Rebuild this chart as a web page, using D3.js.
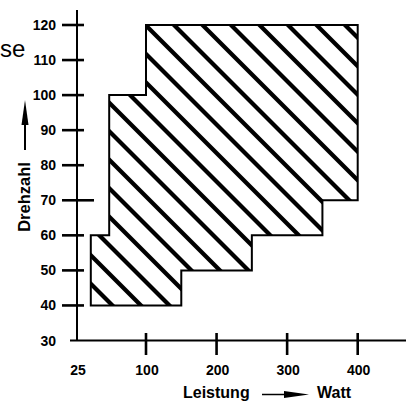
<!DOCTYPE html>
<html><head><meta charset="utf-8">
<script src="https://cdn.jsdelivr.net/npm/d3@7"></script>
<style>html,body{margin:0;padding:0;background:#fff;}svg{display:block;}</style>
</head><body>
<script>
// Data
const xTicks = [25, 100, 200, 300, 400];          // Leistung (Watt)
const yTicks = [30, 40, 50, 60, 70, 80, 90, 100, 110, 120]; // Drehzahl
const regionPower = [40, 40, 60, 60, 100, 100, 400, 400, 350, 350, 250, 250, 150, 150];
const regionSpeed = [40, 60, 60, 100, 100, 120, 120, 70, 70, 60, 60, 50, 50, 40];
const xTitle = "Leistung";
const xUnit = "Watt";
const yTitle = "Drehzahl";
const cornerText = "se";

const W = 406, H = 401;
const svg = d3.select("body").append("svg").attr("width", W).attr("height", H);
const font = "'Liberation Sans', Arial, sans-serif";

const x = d3.scaleLinear().domain([25, 100, 400]).range([77, 146, 357.7]);
const y = d3.scaleLinear().domain([30, 120]).range([340.5, 25]);

// Region
const pts = regionPower.map((p, i) => [x(p), y(regionSpeed[i])]);
const defs = svg.append("defs");
defs.append("clipPath").attr("id", "rc").append("polygon").attr("points", pts.map(d => d.join(",")).join(" "));
defs.append("filter").attr("id", "soft").append("feGaussianBlur").attr("stdDeviation", 0.5);
const hatch = svg.append("g").attr("clip-path", "url(#rc)");
const hg = hatch.append("g").attr("filter", "url(#soft)");
const period = 28.5, phase = 149;
for (let c = phase - period * 12; c < 400; c += period) {
  hg.append("line").attr("x1", c).attr("y1", 0).attr("x2", c + 420).attr("y2", 420)
    .attr("stroke", "#000").attr("stroke-width", 4.2);
}
svg.append("polygon").attr("points", pts.map(d => d.join(",")).join(" "))
  .attr("fill", "none").attr("stroke", "#000").attr("stroke-width", 2);

// Axes
svg.append("line").attr("x1", 77).attr("x2", 77).attr("y1", 10).attr("y2", y(30))
  .attr("stroke", "#000").attr("stroke-width", 2);
svg.append("line").attr("x1", 70).attr("x2", 406).attr("y1", y(30)).attr("y2", y(30))
  .attr("stroke", "#000").attr("stroke-width", 2);

// Y ticks
yTicks.forEach(v => {
  if (v > 30) {
    svg.append("line").attr("x1", 62).attr("x2", v === 70 ? 94 : 84)
      .attr("y1", y(v)).attr("y2", y(v)).attr("stroke", "#000").attr("stroke-width", 2.6);
  }
  svg.append("text").attr("x", 56).attr("y", y(v) + 5).attr("text-anchor", "end")
    .attr("font-family", font).attr("font-weight", "bold").attr("font-size", 14).text(v);
});

// X ticks
xTicks.forEach(v => {
  if (v > 25) {
    svg.append("line").attr("x1", x(v)).attr("x2", x(v)).attr("y1", 333).attr("y2", 355)
      .attr("stroke", "#000").attr("stroke-width", 2.6);
  }
  svg.append("text").attr("x", x(v) + 1).attr("y", 374.5).attr("text-anchor", "middle")
    .attr("font-family", font).attr("font-weight", "bold").attr("font-size", 14).text(v);
});

// X title
svg.append("text").attr("x", 183).attr("y", 398).attr("font-family", font).attr("font-weight", "bold")
  .attr("font-size", 16).text(xTitle);
svg.append("text").attr("x", 317).attr("y", 398).attr("font-family", font).attr("font-weight", "bold")
  .attr("font-size", 16).text(xUnit);
svg.append("line").attr("x1", 262).attr("x2", 290).attr("y1", 394.5).attr("y2", 394.5)
  .attr("stroke", "#000").attr("stroke-width", 1.5);
svg.append("polygon").attr("points", "284,391 309,394.5 284,398").attr("fill", "#000");

// Y title
svg.append("text").attr("transform", "translate(30,197) rotate(-90)").attr("text-anchor", "middle")
  .attr("font-family", font).attr("font-weight", "bold").attr("font-size", 16.5).text(yTitle);
svg.append("line").attr("x1", 25).attr("x2", 25).attr("y1", 150).attr("y2", 118)
  .attr("stroke", "#000").attr("stroke-width", 2);
svg.append("polygon").attr("points", "21.5,125 25,100 28.5,125").attr("fill", "#000");

// Corner text
svg.append("text").attr("x", 0).attr("y", 57).attr("font-family", font)
  .attr("font-size", 24).text(cornerText);
</script>
</body></html>
